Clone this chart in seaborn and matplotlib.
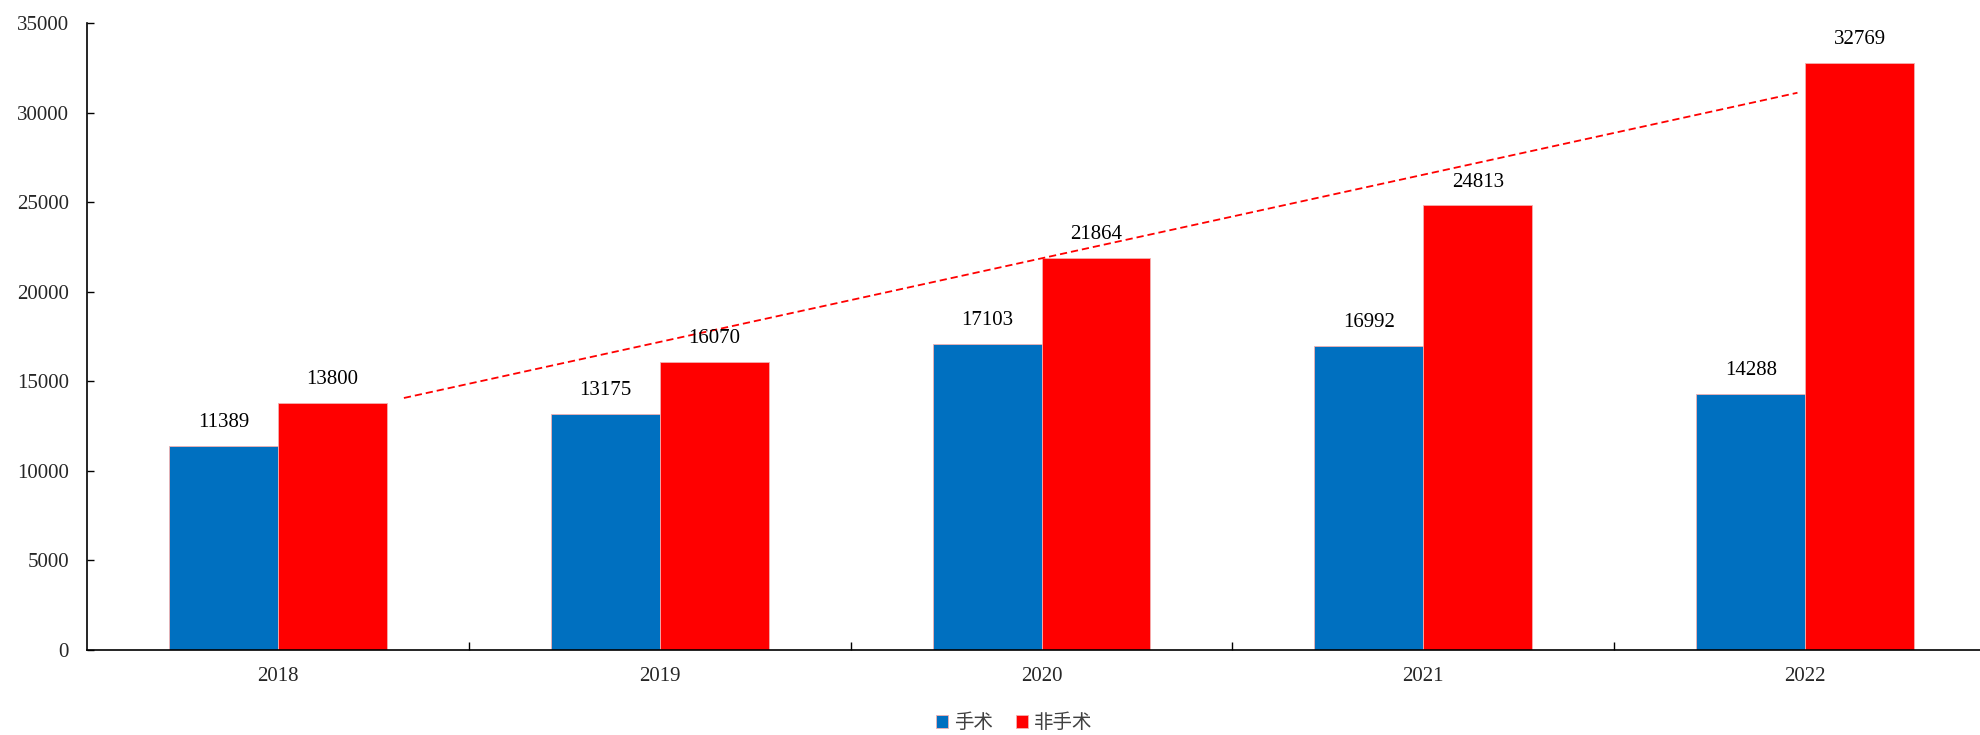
import numpy as np
import pandas as pd
import seaborn as sns
import matplotlib.pyplot as plt
from matplotlib.ticker import FixedLocator

# chart data
years = ["2018", "2019", "2020", "2021", "2022"]
surgery = [11389, 13175, 17103, 16992, 14288]
non_surgery = [13800, 16070, 21864, 24813, 32769]
series_names = ["手术", "非手术"]
colors = ["#0070C0", "#FF0000"]

df = pd.DataFrame({
    "year": years * 2,
    "value": surgery + non_surgery,
    "kind": [series_names[0]] * len(years) + [series_names[1]] * len(years),
})

sns.set_theme(style="white")
plt.rcParams["font.family"] = ["Liberation Serif", "Noto Sans CJK SC"]

fig = plt.figure(figsize=(19.81, 7.35), dpi=100)
ax = fig.add_axes([87 / 1981, 1 - 650 / 735, (1996 - 87) / 1981, (650 - 23) / 735])

sns.barplot(data=df, x="year", y="value", hue="kind", palette=colors,
            width=0.57, gap=0, ax=ax, legend=True, saturation=1,
            edgecolor="#f4b0b0", linewidth=0.6)

for cont in ax.containers:
    ax.bar_label(cont, fmt="%d", padding=10, fontsize=15, color="black")

# linear trendline for the non-surgery series
xs = np.arange(len(years))
slope, intercept = np.polyfit(xs, non_surgery, 1)
tx = np.array([0.33, len(years) - 1.02])
ax.plot(tx, slope * tx + intercept, color="#FF0000", lw=1.3,
        linestyle=(0, (4, 2.2)))

ax.set_xlim(-0.5, len(years) - 0.5)
ax.set_ylim(0, 35000)
ax.set_yticks(np.arange(0, 35001, 5000))
ax.set_xlabel("")
ax.set_ylabel("")

for side in ["top", "right"]:
    ax.spines[side].set_visible(False)
for side in ["left", "bottom"]:
    ax.spines[side].set_color("black")
    ax.spines[side].set_linewidth(1.2)

ax.tick_params(axis="y", direction="in", length=5, width=1, color="black",
               labelsize=15, pad=13, left=True)
ax.tick_params(axis="x", which="major", length=0, labelsize=15, pad=12)
ax.xaxis.set_minor_locator(FixedLocator(np.arange(0.5, len(years) - 0.5, 1)))
ax.tick_params(axis="x", which="minor", direction="in", length=6, width=1,
               color="black", bottom=True)

leg = ax.legend(loc="center", bbox_to_anchor=(1014 / 1981, 12 / 735),
                bbox_transform=fig.transFigure, ncol=2, frameon=False,
                fontsize=14, handlelength=0.6, handleheight=0.6,
                handletextpad=0.3, columnspacing=1.2)
for t in leg.get_texts():
    t.set_color("#404040")

fig.savefig("out.png", dpi=100)
